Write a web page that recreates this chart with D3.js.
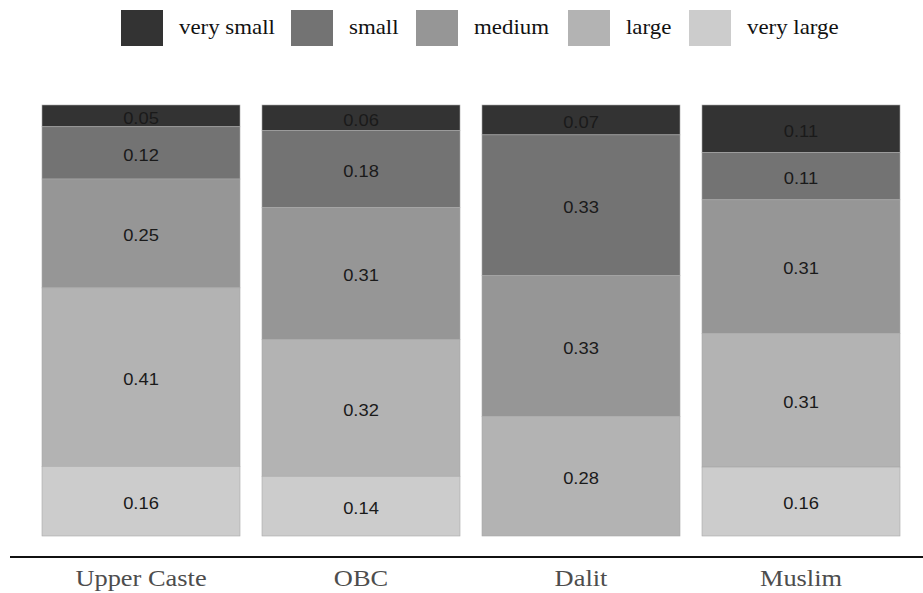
<!DOCTYPE html>
<html>
<head>
<meta charset="utf-8">
<script src="https://cdn.jsdelivr.net/npm/d3@7"></script>
<style>
  html, body { margin: 0; padding: 0; background: #fff; }
  svg { display: block; }
  .serif { font-family: "Liberation Serif", "Times New Roman", Times, serif; }
  .sans { font-family: "Liberation Sans", Arial, Helvetica, sans-serif; }
</style>
</head>
<body>
<svg id="chart" width="923" height="593"></svg>
<script>
const categories = ["Upper Caste", "OBC", "Dalit", "Muslim"];
const sizes = ["very small", "small", "medium", "large", "very large"];
const verySmall = [0.05, 0.06, 0.07, 0.11];
const small     = [0.12, 0.18, 0.33, 0.11];
const medium    = [0.25, 0.31, 0.33, 0.31];
const large     = [0.41, 0.32, 0.28, 0.31];
const veryLarge = [0.16, 0.14, 0.00, 0.16];
const colors = ["#333333", "#737373", "#969696", "#b3b3b3", "#cccccc"];

const seriesValues = [verySmall, small, medium, large, veryLarge];
const rows = categories.map((c, i) => {
  const r = { category: c };
  sizes.forEach((s, k) => r[s] = seriesValues[k][i]);
  return r;
});

const svg = d3.select("#chart");
const plotTop = 105, plotBottom = 536;

const x = d3.scaleBand().domain(categories).range([31, 911]).paddingInner(0.1).paddingOuter(0.05);
const y = d3.scaleLinear().domain([0, 1]).range([plotTop, plotBottom]);
const color = d3.scaleOrdinal().domain(sizes).range(colors);

const stack = d3.stack().keys(sizes).offset(d3.stackOffsetExpand);
const stacked = stack(rows);

const g = svg.append("g");
stacked.forEach(layer => {
  const key = layer.key;
  layer.forEach(d => {
    const v = d.data[key];
    if (v <= 0) return;
    const y0 = y(d[0]), y1 = y(d[1]);
    g.append("rect")
      .attr("x", x(d.data.category))
      .attr("y", y0)
      .attr("width", x.bandwidth())
      .attr("height", y1 - y0)
      .attr("fill", color(key))
      .attr("stroke", "#a8a8a8")
      .attr("stroke-width", 0.6);
    g.append("text")
      .attr("class", "sans")
      .attr("transform", `translate(${x(d.data.category) + x.bandwidth() / 2},${(y0 + y1) / 2 + 1}) scale(1.08,1)`)
      .attr("dy", "0.4em")
      .attr("text-anchor", "middle")
      .attr("font-size", 17)
      .attr("fill", "#1a1a1a")
      .text(d3.format(".2f")(v));
  });
});

svg.append("line")
  .attr("x1", 10).attr("x2", 923)
  .attr("y1", 557).attr("y2", 557)
  .attr("stroke", "#111").attr("stroke-width", 2);

const xAxis = d3.axisBottom(x).tickSize(0).tickPadding(0);
const ax = svg.append("g").attr("transform", "translate(0,586)").call(xAxis);
ax.select(".domain").remove();
ax.selectAll("text")
  .attr("class", "serif")
  .attr("font-size", 24)
  .attr("fill", "#4d4d4d")
  .attr("y", 0)
  .attr("dy", "0")
  .attr("transform", "scale(1.1,1)");

const legendX = [121, 291, 416, 568, 689];
const legend = svg.append("g");
sizes.forEach((s, k) => {
  legend.append("rect")
    .attr("x", legendX[k]).attr("y", 10)
    .attr("width", 42).attr("height", 36)
    .attr("fill", colors[k]);
  legend.append("text")
    .attr("class", "serif")
    .attr("transform", `translate(${legendX[k] + 58},34) scale(1.04,1)`)
    .attr("font-size", 22)
    .attr("fill", "#111")
    .text(s);
});
</script>
</body>
</html>
